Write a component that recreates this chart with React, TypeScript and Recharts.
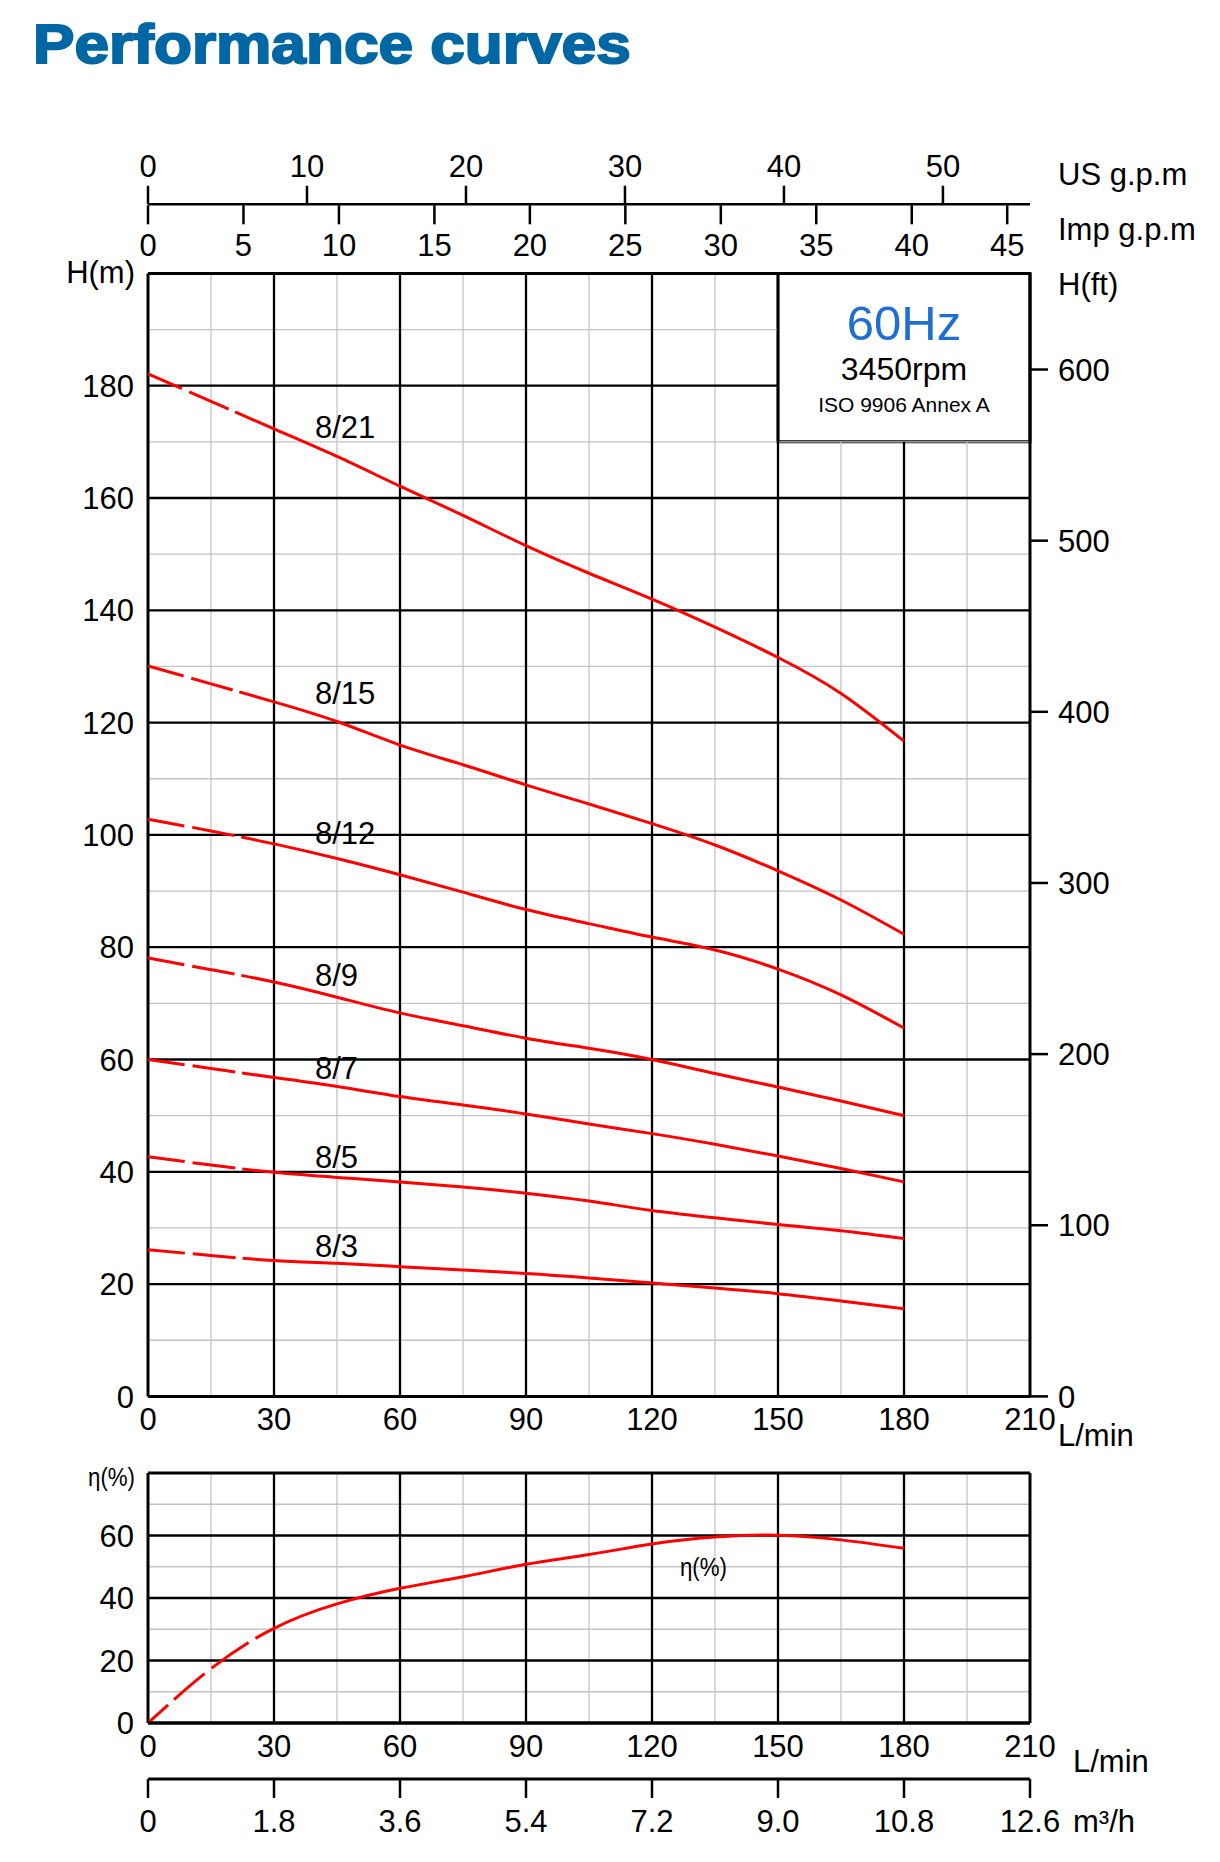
import React from 'react'
import {
  LineChart, Line, XAxis, YAxis, ReferenceLine, ReferenceArea, ReferenceDot
} from 'recharts'

// flow points the curves were read at, L/min
const FLOW = [0, 15, 30, 45, 60, 75, 90, 105, 120, 135, 150, 165, 180]

// head per model, m
const H_8_21 = [182.1, 177.2, 172.3, 167.4, 162.1, 156.9, 151.5, 146.6, 142.0, 137.0, 131.6, 125.2, 116.7]
const H_8_15 = [130.1, 126.9, 123.7, 120.2, 116.0, 112.5, 108.9, 105.5, 102.0, 98.2, 93.6, 88.4, 82.3]
const H_8_12 = [102.8, 100.7, 98.4, 95.8, 92.9, 89.8, 86.7, 84.2, 81.8, 79.5, 76.1, 71.5, 65.6]
const H_8_9 = [78.1, 76.0, 73.8, 71.1, 68.3, 66.0, 63.8, 62.0, 60.0, 57.5, 55.1, 52.6, 50.0]
const H_8_7 = [60.0, 58.4, 56.8, 55.2, 53.4, 51.9, 50.3, 48.5, 46.8, 44.9, 42.8, 40.6, 38.2]
const H_8_5 = [42.7, 41.2, 39.9, 39.0, 38.2, 37.3, 36.2, 34.8, 33.1, 31.8, 30.6, 29.5, 28.1]
const H_8_3 = [26.1, 25.1, 24.2, 23.7, 23.1, 22.5, 21.9, 21.1, 20.2, 19.3, 18.3, 17.0, 15.6]

const MODELS = ['8/21', '8/15', '8/12', '8/9', '8/7', '8/5', '8/3']
const HEADS = [H_8_21, H_8_15, H_8_12, H_8_9, H_8_7, H_8_5, H_8_3]
// model name anchor (flow, head)
const LABEL_Q = 40
const LABEL_H = [172.5, 125.1, 100.1, 74.9, 58.3, 42.5, 26.6]

// pump efficiency, %
const EFF = [0, 17.4, 30.3, 38.1, 43.1, 46.8, 50.8, 53.9, 57.3, 59.5, 60.1, 58.6, 55.9]

// axis ticks
const Q_TICKS = [0, 30, 60, 90, 120, 150, 180, 210]
const H_TICKS = [0, 20, 40, 60, 80, 100, 120, 140, 160, 180]
const FT_TICKS = [0, 100, 200, 300, 400, 500, 600]
const US_TICKS = [0, 10, 20, 30, 40, 50]
const IMP_TICKS = [0, 5, 10, 15, 20, 25, 30, 35, 40, 45]
const EFF_TICKS = [0, 20, 40, 60]
const M3H_TICKS = [0, 1.8, 3.6, 5.4, 7.2, 9.0, 10.8, 12.6]

// grid
const Q_MINOR = [15, 45, 75, 105, 135, 165, 195]
const Q_MAJOR = [30, 60, 90, 120, 150, 180]
const H_MINOR = [10, 30, 50, 70, 90, 110, 130, 150, 170, 190]
const H_MAJOR = [20, 40, 60, 80, 100, 120, 140, 160, 180]
const EFF_MINOR = [10, 30, 50, 70]
const EFF_MAJOR = [20, 40, 60]

const US_GAL = 3.78541
const IMP_GAL = 4.54609
const FT = 0.3048

const FONT = '"Liberation Sans", Arial, Helvetica, sans-serif'
const RED = '#ff0000'
const DASH_HEAD = '37 8 43 7 4000'
const DASH_EFF = '27 8 40 9 45 8 4000'

const headRows = FLOW.map((q, i) => {
  const row: any = { q }
  HEADS.forEach((h, j) => { row['h' + j] = h[i] })
  return row
})
const effRows = FLOW.map((q, i) => ({ q, m3: (q * 60) / 1000, eff: EFF[i] }))
const gpmRows = FLOW.map(q => ({ us: q / US_GAL, imp: q / IMP_GAL }))

const T = { fontFamily: FONT, fontSize: 31, fill: '#000' }

const bottomTick = (dy: number, fmt = (v: number) => String(v)) => (p: any) => (
  <text x={p.x} y={p.y + dy} textAnchor="middle" {...T}>{fmt(p.payload.value)}</text>
)
const leftTick = (p: any) => (
  <text x={p.x - 14} y={p.y} dy="0.36em" textAnchor="end" {...T}>{p.payload.value}</text>
)
const rightTick = (p: any) => (
  <text x={p.x + 10} y={p.y} dy="0.36em" textAnchor="start" {...T}>{p.payload.value}</text>
)
const afterAxis = (text: string, dx: number, dy: number) => (p: any) => {
  const vb = p.viewBox
  return <text x={vb.x + vb.width + dx} y={vb.y + dy} {...T}>{text}</text>
}
const beforeAxis = (text: string, dy: number, size = 31, len?: number) => (p: any) => {
  const vb = p.viewBox
  return (
    <text x={vb.x + vb.width - 13} y={vb.y + dy} textAnchor="end" fontFamily={FONT} fontSize={size} fill="#000"
      textLength={len} lengthAdjust="spacingAndGlyphs">{text}</text>
  )
}

const MINOR = { stroke: '#c3c3c3', strokeWidth: 1.3 }
const MAJOR = { stroke: '#000', strokeWidth: 2.3 }
const BORDER = { stroke: '#000', strokeWidth: 3 }

// box in the top right corner hides part of the grid
function grid(qMax: number, yMax: number, yMinor: number[], yMajor: number[], box?: { q: number, y: number }) {
  const vTop = (q: number) => (box && q > box.q ? box.y : yMax)
  const hEnd = (y: number) => (box && y > box.y ? box.q : qMax)
  const out: any[] = []
  Q_MINOR.forEach(q => out.push(<ReferenceLine key={'vm' + q} segment={[{ x: q, y: 0 }, { x: q, y: vTop(q) }]} {...MINOR} />))
  yMinor.forEach(y => out.push(<ReferenceLine key={'hm' + y} segment={[{ x: 0, y }, { x: hEnd(y), y }]} {...MINOR} />))
  Q_MAJOR.forEach(q => out.push(<ReferenceLine key={'vM' + q} segment={[{ x: q, y: 0 }, { x: q, y: vTop(q) }]} {...MAJOR} />))
  yMajor.forEach(y => out.push(<ReferenceLine key={'hM' + y} segment={[{ x: 0, y }, { x: hEnd(y), y }]} {...MAJOR} />))
  out.push(<ReferenceLine key="b1" x={0} {...BORDER} />)
  out.push(<ReferenceLine key="b2" x={qMax} {...BORDER} />)
  out.push(<ReferenceLine key="b3" y={0} {...BORDER} />)
  out.push(<ReferenceLine key="b4" y={yMax} {...BORDER} />)
  return out
}

const boxLabel = (p: any) => {
  const { x, y, width } = p.viewBox
  const cx = x + width / 2
  return (
    <g>
      <text x={cx} y={y + 66.6} textAnchor="middle" fontFamily={FONT} fontSize={49} fill="#1e6fd0">60Hz</text>
      <text x={cx} y={y + 106.6} textAnchor="middle" fontFamily={FONT} fontSize={32} fill="#000">3450rpm</text>
      <text x={cx} y={y + 138.6} textAnchor="middle" fontFamily={FONT} fontSize={21} fill="#000">ISO 9906 Annex A</text>
    </g>
  )
}

const nameLabel = (name: string) => (p: any) => (
  <text x={p.viewBox.x} y={p.viewBox.y} dy="0.36em" {...T}>{name}</text>
)

function GpmScales() {
  return (
    <LineChart width={1220} height={270} data={gpmRows} margin={{ top: 144.3, right: 190, bottom: 4.7, left: 148 }}>
      <YAxis hide type="number" domain={[0, 1]} />
      <XAxis xAxisId="us" dataKey="us" orientation="top" type="number" domain={[0, 210 / US_GAL]} allowDataOverflow
        ticks={US_TICKS} interval={0} height={60}
        axisLine={{ stroke: '#000', strokeWidth: 2.5 }} tickLine={{ stroke: '#000', strokeWidth: 2.5 }}
        tickSize={18.6} tickMargin={0} tick={bottomTick(-8.7)} label={afterAxis('US g.p.m', 28, 40.7)} />
      <XAxis xAxisId="imp" dataKey="imp" orientation="bottom" type="number" domain={[0, 210 / IMP_GAL]} allowDataOverflow
        ticks={IMP_TICKS} interval={0} height={60}
        axisLine={false} tickLine={{ stroke: '#000', strokeWidth: 2.5 }}
        tickSize={19} tickMargin={0} tick={bottomTick(31.7)} label={afterAxis('Imp g.p.m', 28, 34.7)} />
    </LineChart>
  )
}

function HeadChart() {
  return (
    <LineChart width={1220} height={1460} data={headRows} margin={{ top: 273.4, right: 40, bottom: 3.6, left: 48 }}>
      <XAxis dataKey="q" type="number" domain={[0, 210]} allowDataOverflow ticks={Q_TICKS} interval={0} height={60}
        axisLine={{ stroke: '#000', strokeWidth: 3 }} tickLine={false} tickSize={0} tickMargin={0}
        tick={bottomTick(33.6)} label={afterAxis('L/min', 28, 50)} />
      <YAxis type="number" domain={[0, 200]} allowDataOverflow ticks={H_TICKS} interval={0} width={100}
        axisLine={false} tickLine={false} tickSize={0} tickMargin={0} tick={leftTick}
        label={beforeAxis('H(m)', 10)} />
      <YAxis yAxisId="ft" orientation="right" type="number" domain={[0, 200 / FT]} allowDataOverflow
        ticks={FT_TICKS} interval={0} width={150}
        axisLine={false} tickLine={{ stroke: '#000', strokeWidth: 2.5 }} tickSize={18} tickMargin={0}
        tick={rightTick} label={(p: any) => <text x={p.viewBox.x + 28} y={p.viewBox.y + 21.6} {...T}>H(ft)</text>} />
      {grid(210, 200, H_MINOR, H_MAJOR, { q: 150, y: 170 })}
      <ReferenceArea x1={150} x2={210} y1={170} y2={200} fill="#fff" fillOpacity={1}
        stroke="#000" strokeWidth={3} label={boxLabel} />
      {HEADS.map((_, j) => (
        <Line key={MODELS[j]} dataKey={'h' + j} name={MODELS[j]} type="natural" stroke={RED} strokeWidth={3}
          strokeDasharray={DASH_HEAD} dot={false} activeDot={false} isAnimationActive={false} />
      ))}
      {MODELS.map((m, j) => (
        <ReferenceDot key={'l' + m} x={LABEL_Q} y={LABEL_H[j]} r={1} fill="none" stroke="none" label={nameLabel(m)} />
      ))}
    </LineChart>
  )
}

function EffChart() {
  return (
    <LineChart width={1220} height={402} data={effRows} margin={{ top: 13, right: 190, bottom: 23, left: 48 }}>
      <XAxis dataKey="q" type="number" domain={[0, 210]} allowDataOverflow ticks={Q_TICKS} interval={0} height={56}
        axisLine={{ stroke: '#000', strokeWidth: 3 }} tickLine={false} tickSize={0} tickMargin={0}
        tick={bottomTick(34)} label={afterAxis('L/min', 43, 49)} />
      <XAxis xAxisId="m3h" dataKey="m3" type="number" domain={[0, 12.6]} allowDataOverflow ticks={M3H_TICKS} interval={0} height={60}
        axisLine={{ stroke: '#000', strokeWidth: 3 }} tickLine={{ stroke: '#000', strokeWidth: 2.5 }}
        tickSize={19} tickMargin={0} tick={bottomTick(34, v => (v === 0 ? '0' : v.toFixed(1)))}
        label={afterAxis('m³/h', 43, 53)} />
      <YAxis type="number" domain={[0, 80]} allowDataOverflow ticks={EFF_TICKS} interval={0} width={100}
        axisLine={false} tickLine={false} tickSize={0} tickMargin={0} tick={leftTick}
        label={beforeAxis('η(%)', 13, 26, 47)} />
      {grid(210, 80, EFF_MINOR, EFF_MAJOR)}
      <Line dataKey="eff" name="η(%)" type="natural" stroke={RED} strokeWidth={3} strokeDasharray={DASH_EFF}
        dot={false} activeDot={false} isAnimationActive={false} />
      <ReferenceDot x={126.9} y={46.7} r={1} fill="none" stroke="none"
        label={(p: any) => (
          <text x={p.viewBox.x} y={p.viewBox.y} fontFamily={FONT} fontSize={26} fill="#000"
            textLength={47} lengthAdjust="spacingAndGlyphs">η(%)</text>
        )} />
    </LineChart>
  )
}

export default function App() {
  return (
    <div style={{ position: 'absolute', left: 0, top: 0, width: 1220, height: 1862, background: '#fff', fontFamily: FONT }}>
      <div style={{
        position: 'absolute', left: 33, top: 15.6, fontSize: 56, lineHeight: '56px', fontWeight: 700,
        color: '#0067a5', whiteSpace: 'nowrap', transform: 'scaleX(1.11)', transformOrigin: '0 0',
        WebkitTextStroke: '2px #0067a5'
      }}>Performance curves</div>
      <div style={{ position: 'absolute', left: 0, top: 0 }}><GpmScales /></div>
      <div style={{ position: 'absolute', left: 0, top: 0 }}><HeadChart /></div>
      <div style={{ position: 'absolute', left: 0, top: 1460 }}><EffChart /></div>
    </div>
  )
}
